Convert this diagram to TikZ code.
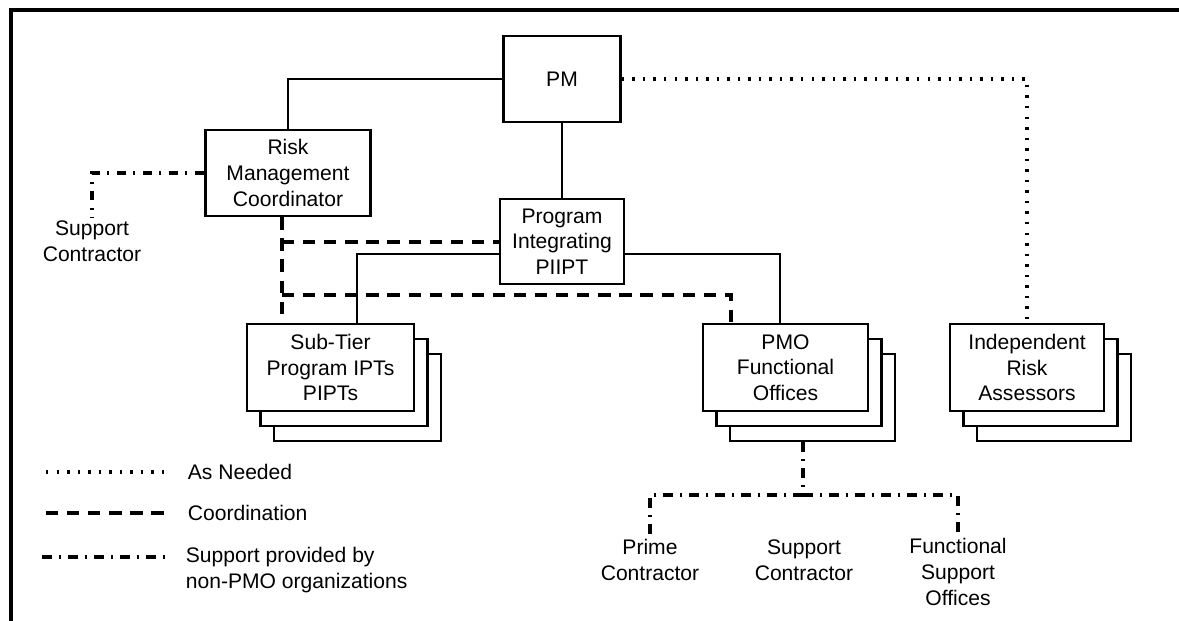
\documentclass[tikz,border=0pt]{standalone}
\usepackage{fontspec}
\setmainfont{Liberation Sans}
\tikzset{
  orgbox/.style={draw, line width=1.5pt, fill=white, align=center, inner sep=0pt,
    font={\fontsize{12}{14.6}\selectfont}},
  plaintext/.style={align=center, inner sep=2pt, font={\fontsize{12}{14.6}\selectfont}},
  solidline/.style={line width=1.25pt},
  asneeded/.style={line width=1.9pt, dash pattern=on 1.4pt off 4.6pt},
  coordline/.style={line width=1.8pt, dash pattern=on 7pt off 5pt},
  supportline/.style={line width=1.8pt, dash pattern=on 5.5pt off 4pt on 1.3pt off 4pt},
}
\begin{document}
\begin{tikzpicture}[x=0.02cm, y=-0.02cm]
  \useasboundingbox (0,0) rectangle (1179,621);
  \clip (0,0) rectangle (1179,621);
  % frame
  \draw[line width=1.9pt] (11,640) |- (1200,10);
  % single boxes
  \node[orgbox, minimum width=117*0.02cm, minimum height=86*0.02cm] (pm) at (562,79) {PM};
  \node[orgbox, minimum width=165*0.02cm, minimum height=86*0.02cm] (rmc) at (288,173) {Risk\\Management\\Coordinator};
  \node[orgbox, minimum width=124*0.02cm, minimum height=85*0.02cm] (piipt) at (562,241.5) {Program\\Integrating\\PIIPT};
  % stacked boxes, back layers first
  \foreach \nm/\cx/\w in {sub/330.5/167, pmo/785.5/165, ira/1027/154} {
    \foreach \k in {2,1} {
      \node[orgbox, minimum width=\w*0.02cm, minimum height=87*0.02cm] (\nm\k) at (\cx+\k*13.5, 367.5+\k*15) {};
    }
  }
  \node[orgbox, minimum width=167*0.02cm, minimum height=87*0.02cm] (sub) at (330.5,367.5) {Sub-Tier\\Program IPTs\\PIPTs};
  \node[orgbox, minimum width=165*0.02cm, minimum height=87*0.02cm] (pmo) at (785.5,367.5) {PMO\\Functional\\Offices};
  \node[orgbox, minimum width=154*0.02cm, minimum height=87*0.02cm] (ira) at (1027,367.5) {Independent\\Risk\\Assessors};
  % outside organizations
  \node[plaintext] (supl) at (92,241.5) {Support\\Contractor};
  \node[plaintext] (prime) at (650,560) {Prime\\Contractor};
  \node[plaintext] (supb) at (804,560) {Support\\Contractor};
  \node[plaintext] (fso) at (958,572) {Functional\\Support\\Offices};
  % junction points
  \coordinate (j1) at (357,254);
  \coordinate (j2) at (780,254);
  \coordinate (d1) at (282,242);
  \coordinate (d2) at (282,295);
  \coordinate (d3) at (731,295);
  \coordinate (s0) at (803,495);
  % reporting lines
  \draw[solidline] (pm.west) -| (rmc.north);
  \draw[solidline] (pm) -- (piipt);
  \draw[solidline] (piipt.west |- j1) -| (sub.north -| j1);
  \draw[solidline] (piipt.east |- j2) -| (pmo.north -| j2);
  % coordination
  \draw[coordline] (rmc.south -| d1) -- (sub.north -| d1);
  \draw[coordline] (d1) -- (piipt.west |- d1);
  \draw[coordline] (d2) -| (pmo.north -| d3);
  % as needed
  \draw[asneeded] (pm.east) -| (ira.north);
  % support from non-PMO organizations
  \draw[supportline] (rmc.west) -| (supl.north);
  \draw[supportline] (pmo2.south -| s0) -- (s0);
  \draw[supportline] (s0) -| (prime.north);
  \draw[supportline] (s0) -| (fso.north);
  % legend
  \foreach \st/\y/\txt in {asneeded/472/As Needed, coordline/513/Coordination} {
    \coordinate (l\st) at (46,\y);
    \node[plaintext, anchor=west] (t\st) at (184,\y) {\txt};
    \draw[\st] (l\st) -- (166,\y);
  }
  \coordinate (lsupport) at (42,557);
  \node[plaintext, anchor=west, align=left] (tsupport) at (182,570) {Support provided by\\non-PMO organizations};
  \draw[supportline] (lsupport) -- (166,557);
\end{tikzpicture}
\end{document}
